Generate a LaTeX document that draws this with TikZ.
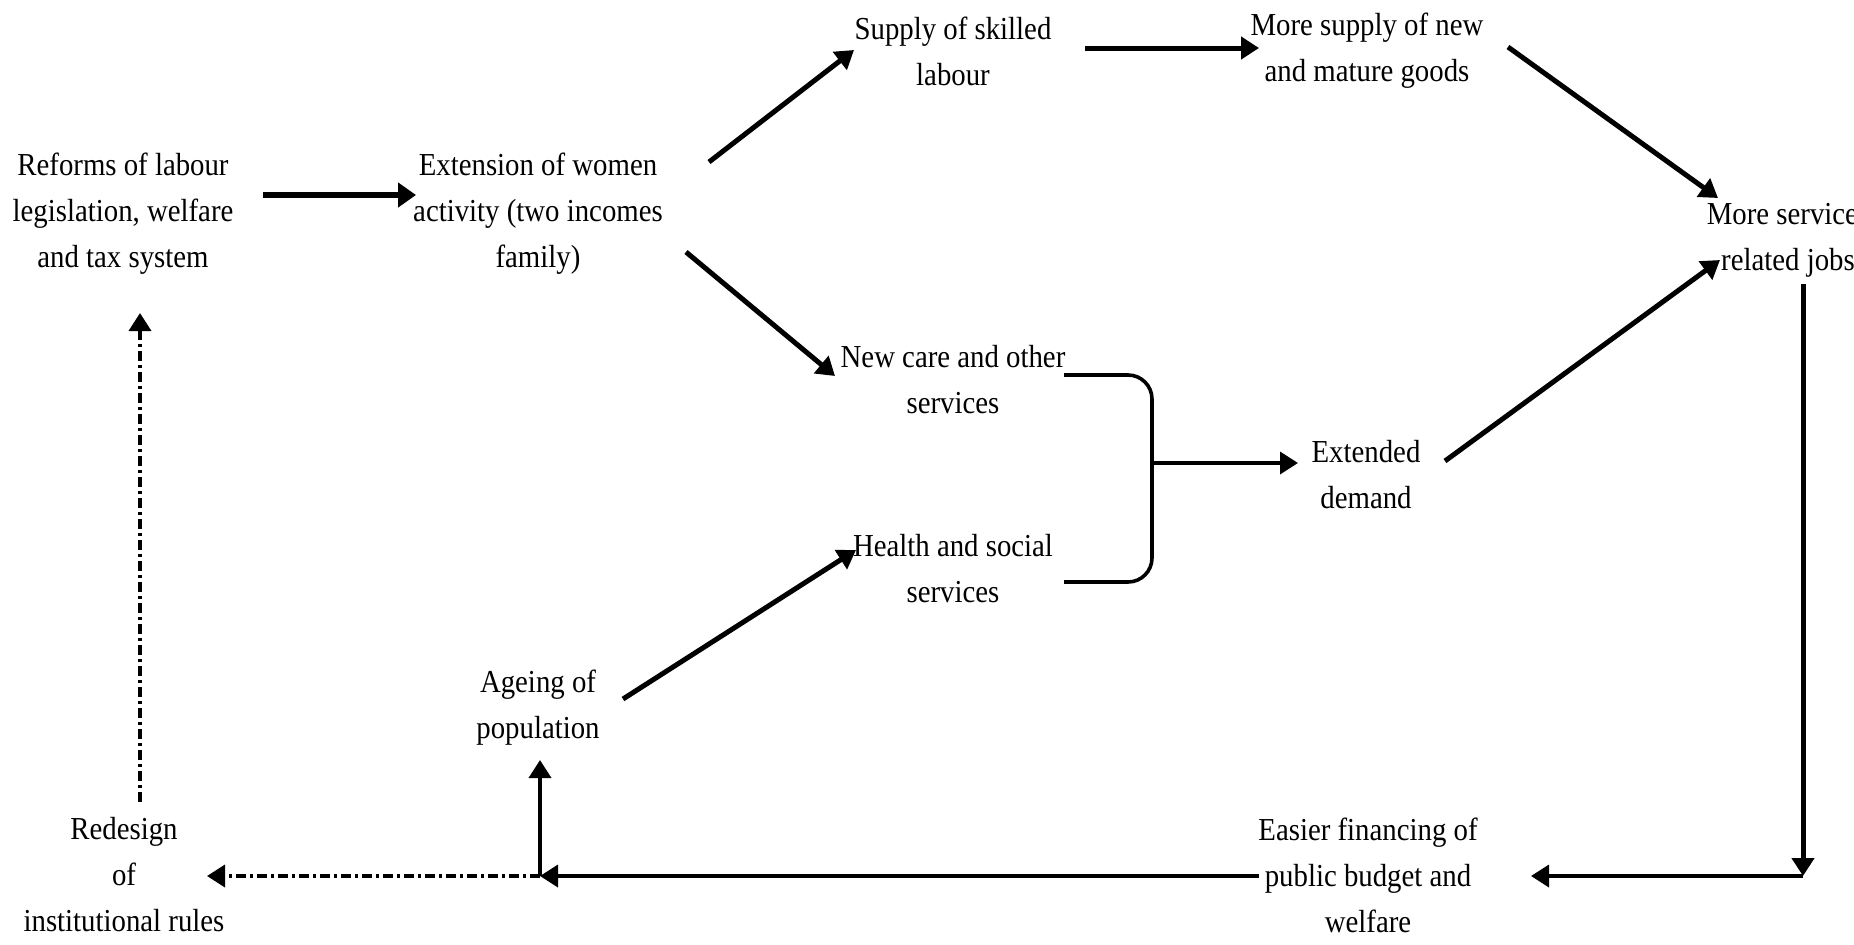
\documentclass[tikz,border=0pt]{standalone}
\usepackage{fontspec}
\setmainfont{Liberation Serif}[FakeStretch=0.9]
\usetikzlibrary{arrows.meta,calc}

\tikzset{
  lbl/.style={align=center, inner sep=0pt, font=\fontsize{16pt}{23pt}\selectfont},
  heavy/.style={line width=2.5pt, -{Triangle[length=9pt,width=11pt]}},
  heavier/.style={line width=3.2pt, -{Triangle[length=9pt,width=12pt]}},
  thinarr/.style={line width=1.8pt, -{Triangle[length=9pt,width=11pt]}},
  dashdot/.style={line width=1.8pt, dash pattern=on 5pt off 2pt on 1.5pt off 2pt},
}

\begin{document}
\begin{tikzpicture}[x=0.5pt, y=-0.5pt]
\useasboundingbox (0,0) rectangle (1854,944);

% text blocks
\node[lbl] (reforms)  at (123,214)  {Reforms of labour\\legislation, welfare\\and tax system};
\node[lbl] (ext)      at (538,214)  {Extension of women\\activity (two incomes\\family)};
\node[lbl] (skilled)  at (953,51)   {Supply of skilled\\labour};
\node[lbl] (goods)    at (1367,51)  {More supply of new\\and mature goods};
\node[lbl] (jobs)     at (1788,240) {More services\\related jobs};
\node[lbl] (newcare)  at (953,380)  {New care and other\\services};
\node[lbl] (health)   at (953,569)  {Health and social\\services};
\node[lbl] (demand)   at (1366,475) {Extended\\demand};
\node[lbl] (ageing)   at (538,708)  {Ageing of\\population};
\node[lbl] (redesign) at (124,875)  {Redesign\\of\\institutional rules};
\node[lbl] (easier)   at (1368,875) {Easier financing of\\public budget and\\welfare};

% main chain
\draw[heavier] ($(reforms)+(140,-19)$) -- ($(ext)+(-122,-19)$);
\draw[heavy] ($(ext)+(171,-52)$) -- ($(skilled)+(-99,-1)$);
\draw[heavy] ($(skilled)+(132,-3)$) -- ($(goods)+(-108,-3)$);
\draw[heavy] ($(goods)+(141,-4)$) -- ($(jobs)+(-70,-42)$);
\draw[heavy] ($(ext)+(148,38)$) -- ($(newcare)+(-118,-4)$);
\draw[heavy] ($(ageing)+(85,-9)$) -- ($(health)+(-97,-19)$);
\draw[heavy] ($(demand)+(79,-14)$) -- ($(jobs)+(-68,20)$);

% bracket joining the two service blocks
\coordinate (btop) at ($(newcare)+(199,-5)$);
\coordinate (bbot) at ($(health)+(199,13)$);
\coordinate (bmid) at ($(demand)+(-214,-12)$);
\draw[line width=1.8pt, rounded corners=12pt]
  ($(newcare)+(111,-5)$) -- (btop) -- (bbot) -- ($(health)+(111,13)$);
\draw[thinarr] (bmid) -- ($(demand)+(-68,-12)$);

% feedback loop along the bottom
\coordinate (corner) at ($(jobs)+(15,636)$);
\draw[heavy] ($(jobs)+(15,44)$) -- (corner);
\draw[thinarr] (corner) -- ($(easier)+(163,1)$);
\coordinate (jn) at ($(ageing)+(2,168)$);
\draw[thinarr] ($(easier)+(-109,1)$) -- (jn);
\draw[thinarr] (jn) -- ($(ageing)+(2,52)$);
\draw[dashdot, -{Triangle[length=9pt,width=11pt]}] (jn) -- ($(redesign)+(83,1)$);
\draw[dashdot, -{Triangle[length=9pt,width=11pt]}] ($(redesign)+(16,-73)$) -- ($(reforms)+(17,99)$);
\end{tikzpicture}
\end{document}
